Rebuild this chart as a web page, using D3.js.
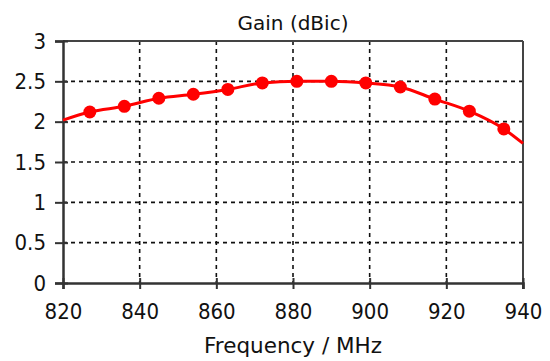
<!DOCTYPE html>
<html>
<head>
<meta charset="utf-8">
<script src="https://cdn.jsdelivr.net/npm/d3@7"></script>
<style>
  html, body { margin: 0; padding: 0; background: #fff; }
  svg { display: block; }
  text { font-family: "DejaVu Sans", sans-serif; fill: #111; }
  .tick text { font-family: "DejaVu Sans Condensed", "DejaVu Sans", sans-serif; }
</style>
</head>
<body>
<svg id="chart" width="550" height="361"></svg>
<script>
// Data
const markerFreq = [827, 836, 845, 854, 863, 872, 881, 890, 899, 908, 917, 926, 935];
const markerGain = [2.12, 2.19, 2.29, 2.34, 2.40, 2.48, 2.50, 2.50, 2.48, 2.43, 2.28, 2.13, 1.91];
const edgeFreq = [820, 940];
const edgeGain = [2.02, 1.73];
const xTicks = [820, 840, 860, 880, 900, 920, 940];
const yTicks = [0, 0.5, 1, 1.5, 2, 2.5, 3];
const titleText = "Gain (dBic)";
const xLabelText = "Frequency / MHz";

const svg = d3.select("#chart");
const m = { left: 63, top: 41, right: 27, bottom: 78 };
const W = 550, H = 361;
const x = d3.scaleLinear().domain([820, 940]).range([m.left, W - m.right]);
const y = d3.scaleLinear().domain([0, 3]).range([H - m.bottom, m.top]);

// grid
const grid = svg.append("g");
grid.selectAll("line.v").data(xTicks.slice(1, -1)).enter().append("line")
  .attr("x1", d => x(d)).attr("x2", d => x(d))
  .attr("y1", y(3)).attr("y2", y(0))
  .attr("stroke", "#111").attr("stroke-width", 1.6).attr("stroke-dasharray", "4,4");
grid.selectAll("line.h").data(yTicks.slice(1, -1)).enter().append("line")
  .attr("x1", x(820)).attr("x2", x(940))
  .attr("y1", d => y(d)).attr("y2", d => y(d))
  .attr("stroke", "#111").attr("stroke-width", 1.6).attr("stroke-dasharray", "4,4");

// frame top/right
svg.append("line").attr("x1", x(820)).attr("x2", x(940)).attr("y1", y(3)).attr("y2", y(3))
  .attr("stroke", "#444").attr("stroke-width", 2);
svg.append("line").attr("x1", x(940)).attr("x2", x(940)).attr("y1", y(3)).attr("y2", y(0) + 6)
  .attr("stroke", "#444").attr("stroke-width", 2);

// axes
const xAxis = d3.axisBottom(x).tickValues(xTicks).tickSize(6).tickPadding(14);
const gx = svg.append("g").attr("transform", `translate(0,${y(0)})`).call(xAxis);
gx.select(".domain").attr("stroke", "#333").attr("stroke-width", 2.5);
gx.selectAll(".tick line").attr("stroke", "#333").attr("stroke-width", 2).attr("y1", -5);
gx.selectAll(".tick text").attr("font-size", 22).attr("font-family", null).style("fill", "#111");

const yAxis = d3.axisLeft(y).tickValues(yTicks).tickSize(8).tickPadding(9)
  .tickFormat(d => String(d));
const gy = svg.append("g").attr("transform", `translate(${x(820)},0)`).call(yAxis);
gy.select(".domain").attr("stroke", "#333").attr("stroke-width", 2.5);
gy.selectAll(".tick line").attr("stroke", "#333").attr("stroke-width", 2).attr("x1", 5);
gy.selectAll(".tick text").attr("font-size", 22).attr("font-family", null).style("fill", "#111");

// series
const linePts = [[edgeFreq[0], edgeGain[0]]]
  .concat(markerFreq.map((f, i) => [f, markerGain[i]]))
  .concat([[edgeFreq[1], edgeGain[1]]]);
const line = d3.line().x(d => x(d[0])).y(d => y(d[1])).curve(d3.curveMonotoneX);
svg.append("path").datum(linePts).attr("d", line)
  .attr("fill", "none").attr("stroke", "#ff0000").attr("stroke-width", 3);
svg.selectAll("circle.mk").data(markerFreq).enter().append("circle")
  .attr("cx", d => x(d)).attr("cy", (d, i) => y(markerGain[i])).attr("r", 6.5)
  .attr("fill", "#ff0000");

// title & label
svg.append("text").attr("x", (x(820) + x(940)) / 2).attr("y", 30)
  .attr("text-anchor", "middle").attr("font-size", 20).text(titleText);
svg.append("text").attr("x", (x(820) + x(940)) / 2).attr("y", 353)
  .attr("text-anchor", "middle").attr("font-size", 21.5).text(xLabelText);
</script>
</body>
</html>
